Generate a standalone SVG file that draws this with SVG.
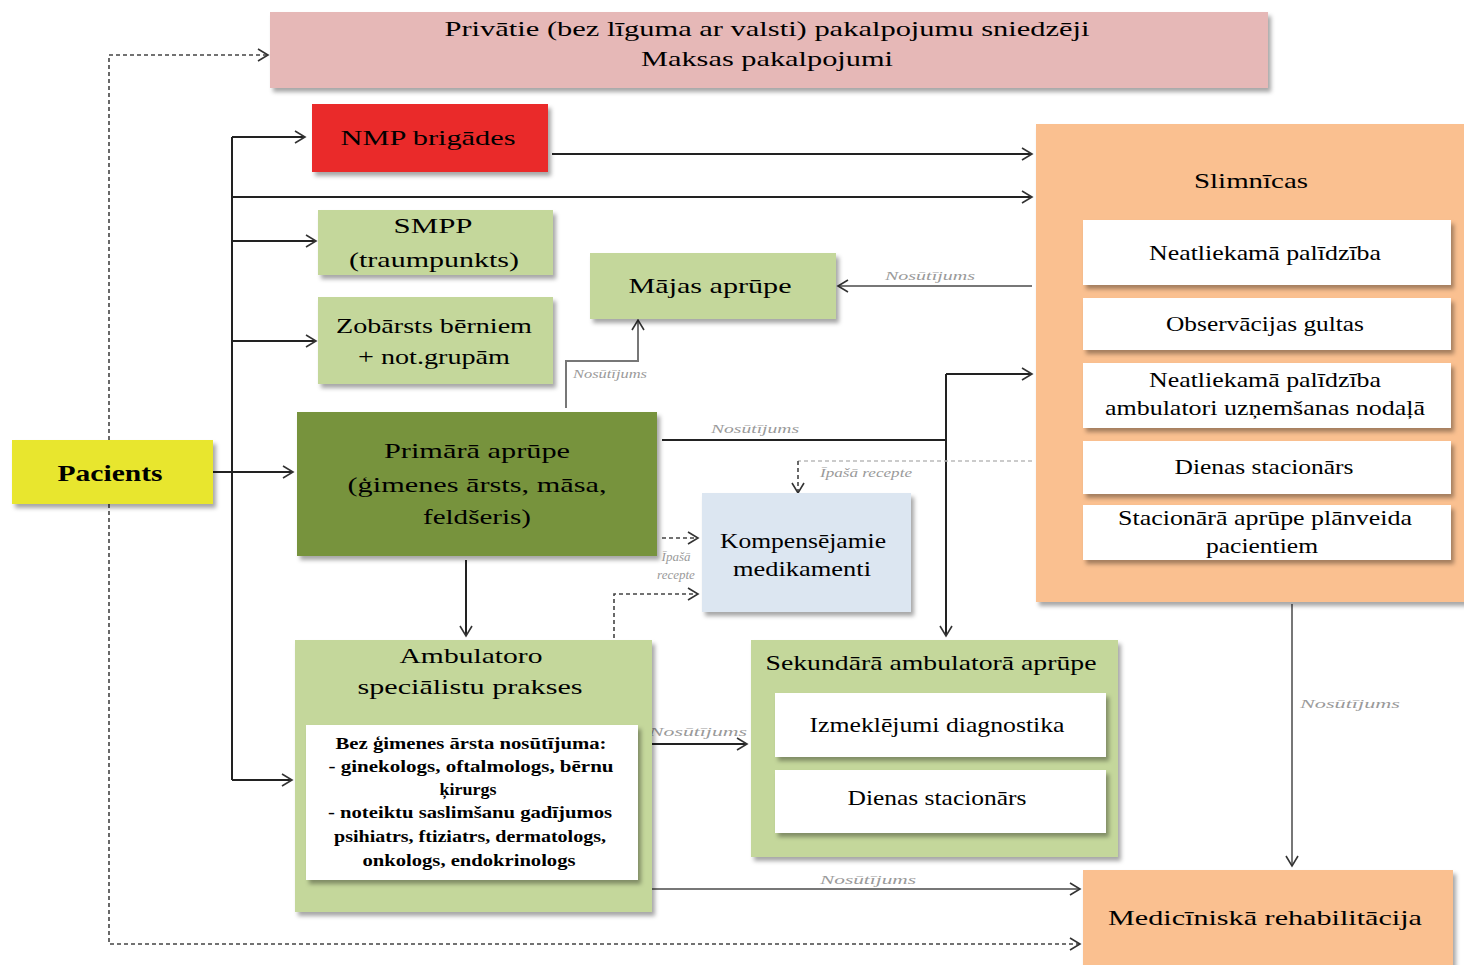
<svg xmlns="http://www.w3.org/2000/svg" width="1464" height="965" viewBox="0 0 1464 965">
<defs>
<filter id="sh" x="-5%" y="-5%" width="115%" height="120%">
<feDropShadow dx="3" dy="4" stdDeviation="2" flood-color="#000" flood-opacity="0.35"/>
</filter>
<marker id="ar" markerWidth="14" markerHeight="14" refX="12" refY="7" orient="auto" markerUnits="userSpaceOnUse">
<polyline points="2,1 12,7 2,13" fill="none" stroke="#333" stroke-width="1.6"/>
</marker>
</defs>
<style>
text{font-family:"Liberation Serif","Times New Roman",serif;fill:#000;dominant-baseline:central;text-anchor:middle}
.t{font-size:22px}
.s{font-size:16px;font-weight:bold}
.b{font-size:24px;font-weight:bold}
.l{font-size:13px;font-style:italic;fill:#9a9a9a}
.ln{fill:none;stroke:#222;stroke-width:2}
.dl{fill:none;stroke:#444;stroke-width:1.6;stroke-dasharray:4,3}
.lg{fill:none;stroke:#777;stroke-width:2}
</style>
<rect width="1464" height="965" fill="#fff"/>

<g id="connectors">
<polyline class="dl" points="109,440 109,55 268,55" marker-end="url(#ar)"/>
<polyline class="dl" points="109,504 109,944 1080,944" marker-end="url(#ar)"/>
<line class="ln" x1="232" y1="137" x2="232" y2="780"/>
<line class="ln" x1="232" y1="137" x2="305" y2="137" marker-end="url(#ar)"/>
<line class="ln" x1="232" y1="197" x2="1032" y2="197" marker-end="url(#ar)"/>
<line class="ln" x1="232" y1="241" x2="316" y2="241" marker-end="url(#ar)"/>
<line class="ln" x1="232" y1="341" x2="316" y2="341" marker-end="url(#ar)"/>
<line class="ln" x1="232" y1="780" x2="292" y2="780" marker-end="url(#ar)"/>
<line class="ln" x1="213" y1="472" x2="293" y2="472" marker-end="url(#ar)"/>
<line class="ln" x1="552" y1="154" x2="1032" y2="154" marker-end="url(#ar)"/>
<line class="lg" x1="1032" y1="286" x2="838" y2="286" marker-end="url(#ar)"/>
<text class="l" x="930" y="275" textLength="90" lengthAdjust="spacingAndGlyphs">Nosūtījums</text>
<polyline class="lg" points="566,408 566,361 638,361 638,320" marker-end="url(#ar)"/>
<text class="l" x="610" y="373" font-size="11" textLength="74" lengthAdjust="spacingAndGlyphs">Nosūtījums</text>
<polyline class="ln" points="662,440 946,440"/>
<text class="l" x="755" y="428" textLength="88" lengthAdjust="spacingAndGlyphs">Nosūtījums</text>
<line class="ln" x1="946" y1="374" x2="946" y2="636" marker-end="url(#ar)"/>
<line class="ln" x1="946" y1="374" x2="1032" y2="374" marker-end="url(#ar)"/>
<polyline fill="none" stroke="#bbb" stroke-width="1.6" stroke-dasharray="4,3" points="1032,461 798,461"/>
<polyline class="dl" points="798,461 798,493" marker-end="url(#ar)"/>
<text class="l" x="866" y="472" textLength="92" lengthAdjust="spacingAndGlyphs">Īpašā recepte</text>
<line class="dl" x1="662" y1="538" x2="698" y2="538" marker-end="url(#ar)"/>
<text class="l" x="676" y="556" font-size="12">Īpašā</text>
<text class="l" x="676" y="574" font-size="12">recepte</text>
<polyline class="dl" points="614,638 614,594 698,594" marker-end="url(#ar)"/>
<line class="ln" x1="466" y1="560" x2="466" y2="636" marker-end="url(#ar)"/>
<line class="ln" x1="652" y1="744" x2="747" y2="744" marker-end="url(#ar)"/>
<text class="l" x="698" y="731" textLength="98" lengthAdjust="spacingAndGlyphs">Nosūtījums</text>
<line class="lg" x1="652" y1="889" x2="1080" y2="889" marker-end="url(#ar)"/>
<text class="l" x="868" y="879" textLength="96" lengthAdjust="spacingAndGlyphs">Nosūtījums</text>
<line class="lg" x1="1292" y1="604" x2="1292" y2="866" marker-end="url(#ar)"/>
<text class="l" x="1350" y="703" textLength="100" lengthAdjust="spacingAndGlyphs">Nosūtījums</text>
</g>

<g id="privatie">
<rect x="270" y="12" width="998" height="76" fill="#e6b8b7" filter="url(#sh)"/>
<text class="t" x="767" y="28" textLength="645" lengthAdjust="spacingAndGlyphs">Privātie (bez līguma ar valsti) pakalpojumu sniedzēji</text>
<text class="t" x="767" y="58" textLength="252" lengthAdjust="spacingAndGlyphs">Maksas pakalpojumi</text>
</g>

<g id="nmp">
<rect x="312" y="104" width="236" height="68" fill="#ea2a2a" filter="url(#sh)"/>
<text class="t" x="428" y="137" textLength="175" lengthAdjust="spacingAndGlyphs">NMP brigādes</text>
</g>

<g id="smpp">
<rect x="318" y="210" width="235" height="65" fill="#c4d79b" filter="url(#sh)"/>
<text class="t" x="433" y="225" textLength="79" lengthAdjust="spacingAndGlyphs">SMPP</text>
<text class="t" x="434" y="259" textLength="170" lengthAdjust="spacingAndGlyphs">(traumpunkts)</text>
</g>

<g id="zobarsts">
<rect x="318" y="297" width="235" height="87" fill="#c4d79b" filter="url(#sh)"/>
<text class="t" x="434" y="325" textLength="196" lengthAdjust="spacingAndGlyphs">Zobārsts bērniem</text>
<text class="t" x="434" y="356" textLength="152" lengthAdjust="spacingAndGlyphs">+ not.grupām</text>
</g>

<g id="majas">
<rect x="590" y="253" width="246" height="66" fill="#c4d79b" filter="url(#sh)"/>
<text class="t" x="710" y="285" textLength="163" lengthAdjust="spacingAndGlyphs">Mājas aprūpe</text>
</g>

<g id="pacients">
<rect x="12" y="440" width="201" height="64" fill="#e8e62e" filter="url(#sh)"/>
<text class="b" x="110" y="473" textLength="105" lengthAdjust="spacingAndGlyphs">Pacients</text>
</g>

<g id="primara">
<rect x="297" y="412" width="360" height="144" fill="#77933c" filter="url(#sh)"/>
<text class="t" x="477" y="450" textLength="186" lengthAdjust="spacingAndGlyphs">Primārā aprūpe</text>
<text class="t" x="477" y="484" textLength="259" lengthAdjust="spacingAndGlyphs">(ģimenes ārsts, māsa,</text>
<text class="t" x="477" y="516" textLength="108" lengthAdjust="spacingAndGlyphs">feldšeris)</text>
</g>

<g id="kompensejamie">
<rect x="702" y="493" width="209" height="119" fill="#dce6f1" filter="url(#sh)"/>
<text class="t" x="803" y="540" textLength="166" lengthAdjust="spacingAndGlyphs">Kompensējamie</text>
<text class="t" x="802" y="568" textLength="138" lengthAdjust="spacingAndGlyphs">medikamenti</text>
</g>

<g id="ambulatoro">
<rect x="295" y="640" width="357" height="272" fill="#c4d79b" filter="url(#sh)"/>
<text class="t" x="471" y="655" textLength="143" lengthAdjust="spacingAndGlyphs">Ambulatoro</text>
<text class="t" x="470" y="686" textLength="225" lengthAdjust="spacingAndGlyphs">speciālistu prakses</text>
<rect x="306" y="725" width="332" height="155" fill="#fff" filter="url(#sh)"/>
<text class="s" x="471" y="743" textLength="271" lengthAdjust="spacingAndGlyphs">Bez ģimenes ārsta nosūtījuma:</text>
<text class="s" x="471" y="766" textLength="285" lengthAdjust="spacingAndGlyphs">- ginekologs, oftalmologs, bērnu</text>
<text class="s" x="468" y="789" textLength="57" lengthAdjust="spacingAndGlyphs">ķirurgs</text>
<text class="s" x="470" y="812" textLength="284" lengthAdjust="spacingAndGlyphs">- noteiktu saslimšanu gadījumos</text>
<text class="s" x="470" y="836" textLength="272" lengthAdjust="spacingAndGlyphs">psihiatrs, ftiziatrs, dermatologs,</text>
<text class="s" x="469" y="860" textLength="213" lengthAdjust="spacingAndGlyphs">onkologs, endokrinologs</text>
</g>

<g id="sekundara">
<rect x="751" y="640" width="367" height="217" fill="#c4d79b" filter="url(#sh)"/>
<text class="t" x="931" y="662" textLength="331" lengthAdjust="spacingAndGlyphs">Sekundārā ambulatorā aprūpe</text>
<rect x="775" y="693" width="331" height="64" fill="#fff" filter="url(#sh)"/>
<text class="t" x="937" y="724" textLength="255" lengthAdjust="spacingAndGlyphs">Izmeklējumi diagnostika</text>
<rect x="775" y="770" width="331" height="63" fill="#fff" filter="url(#sh)"/>
<text class="t" x="937" y="797" textLength="179" lengthAdjust="spacingAndGlyphs">Dienas stacionārs</text>
</g>

<g id="slimnicas">
<rect x="1036" y="124" width="440" height="478" fill="#fac090" filter="url(#sh)"/>
<text class="t" x="1251" y="180" textLength="114" lengthAdjust="spacingAndGlyphs">Slimnīcas</text>
<rect x="1083" y="220" width="368" height="65" fill="#fff" filter="url(#sh)"/>
<text class="t" x="1265" y="252" textLength="232" lengthAdjust="spacingAndGlyphs">Neatliekamā palīdzība</text>
<rect x="1083" y="298" width="368" height="52" fill="#fff" filter="url(#sh)"/>
<text class="t" x="1265" y="323" textLength="198" lengthAdjust="spacingAndGlyphs">Observācijas gultas</text>
<rect x="1083" y="363" width="368" height="65" fill="#fff" filter="url(#sh)"/>
<text class="t" x="1265" y="379" textLength="232" lengthAdjust="spacingAndGlyphs">Neatliekamā palīdzība</text>
<text class="t" x="1265" y="407" textLength="320" lengthAdjust="spacingAndGlyphs">ambulatori uzņemšanas nodaļā</text>
<rect x="1083" y="441" width="368" height="53" fill="#fff" filter="url(#sh)"/>
<text class="t" x="1264" y="466" textLength="179" lengthAdjust="spacingAndGlyphs">Dienas stacionārs</text>
<rect x="1083" y="505" width="368" height="55" fill="#fff" filter="url(#sh)"/>
<text class="t" x="1265" y="517" textLength="294" lengthAdjust="spacingAndGlyphs">Stacionārā aprūpe plānveida</text>
<text class="t" x="1262" y="545" textLength="112" lengthAdjust="spacingAndGlyphs">pacientiem</text>
</g>

<g id="rehabilitacija">
<rect x="1083" y="870" width="370" height="100" fill="#fac090" filter="url(#sh)"/>
<text class="t" x="1265" y="917" textLength="314" lengthAdjust="spacingAndGlyphs">Medicīniskā rehabilitācija</text>
</g>
</svg>
